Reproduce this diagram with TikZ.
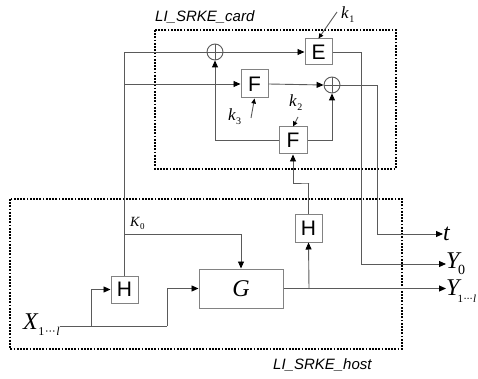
\documentclass[tikz,border=0pt]{standalone}
\usepackage{fontspec}
\setsansfont{Liberation Sans}
\newfontfamily\tms{Liberation Serif}
\usetikzlibrary{arrows.meta,calc}
\definecolor{lc}{RGB}{90,90,90}
\definecolor{bc}{RGB}{130,130,130}
\begin{document}
\begin{tikzpicture}[x=1pt,y=-1pt,
  wire/.style={draw=lc,line width=0.9pt},
  arr/.style={wire,-{Triangle[length=7pt,width=6pt,black]}},
  sarr/.style={wire,-{Triangle[length=5pt,width=4.5pt,black]}},
  blk/.style={draw=bc,line width=1pt,fill=white,inner sep=0pt,font=\sffamily\fontsize{21}{21}\selectfont},
  xorn/.style={circle,draw=lc,line width=0.9pt,fill=white,minimum size=16pt,inner sep=0pt,
    path picture={\draw[lc,line width=0.9pt] (path picture bounding box.north) -- (path picture bounding box.south)
      (path picture bounding box.west) -- (path picture bounding box.east);}},
  dbox/.style={draw=black,line width=1.8pt,dash pattern=on 1.8pt off 1.4pt},
  lbl/.style={inner sep=0pt,font=\tms\itshape},
  grp/.style={inner sep=0pt,font=\sffamily\itshape\fontsize{15}{15}\selectfont}]
\useasboundingbox (0,0) rectangle (478,379);

% group boxes
\draw[dbox] (155,30) rectangle (396,169);
\draw[dbox] (10,199) rectangle (402,349);
\node[grp,anchor=west] (cardlbl) at (155,17) {LI\_SRKE\_card};
\node[grp,anchor=west] (hostlbl) at (273,365) {LI\_SRKE\_host};

% blocks
\node[blk,minimum width=27pt,minimum height=26pt] (E) at (318.5,52) {E};
\node[blk,minimum width=27pt,minimum height=28pt] (F1) at (254.5,84) {F};
\node[blk,minimum width=28pt,minimum height=27pt] (F2) at (293,140.5) {F};
\node[blk,minimum width=27pt,minimum height=27pt] (H1) at (124.5,289.5) {H};
\node[blk,minimum width=27pt,minimum height=28pt] (H2) at (308.5,228) {H};
\node[blk,minimum width=84pt,minimum height=39pt,font=\tms\itshape\fontsize{24}{24}\selectfont] (G) at (241,288.5) {G};
\node[xorn] (x1) at (215,52) {};
\node[xorn] (x2) at (332,85) {};

% labels
\node[lbl,anchor=west,font=\tms\itshape\fontsize{24}{24}\selectfont] (X) at (23,325)
  {X\kern0.5pt\raisebox{-6pt}{\fontsize{12}{12}\selectfont\upshape 1\kern0.5pt·\kern-0.5pt·\kern-0.5pt·\kern0.5pt\itshape l}};
\node[lbl,anchor=west,font=\tms\itshape\fontsize{24}{24}\selectfont] (t) at (443,234) {t};
\node[lbl,anchor=west,font=\tms\itshape\fontsize{24}{24}\selectfont] (Y0) at (446,264)
  {Y\kern-1.5pt\raisebox{-6pt}{\fontsize{14}{14}\selectfont\upshape 0}};
\node[lbl,anchor=west,font=\tms\itshape\fontsize{24}{24}\selectfont] (Y1) at (446,291)
  {Y\kern-2pt\raisebox{-7pt}{\fontsize{11}{11}\selectfont\upshape 1\kern0.3pt·\kern-0.7pt·\kern-0.7pt·\kern0.3pt\itshape l}};
\node[lbl,anchor=west,font=\tms\itshape\fontsize{14}{14}\selectfont] (K0) at (130,223)
  {K\kern0.5pt\raisebox{-3pt}{\fontsize{9}{9}\selectfont\upshape 0}};
\node[lbl,anchor=west,font=\tms\itshape\fontsize{17}{17}\selectfont] (k1) at (341,15)
  {k\kern0.5pt\raisebox{-4pt}{\fontsize{10}{10}\selectfont\upshape 1}};
\node[lbl,anchor=west,font=\tms\itshape\fontsize{17}{17}\selectfont] (k2) at (289,103)
  {k\kern0.5pt\raisebox{-4pt}{\fontsize{10}{10}\selectfont\upshape 2}};
\node[lbl,anchor=west,font=\tms\itshape\fontsize{17}{17}\selectfont] (k3) at (228,117)
  {k\kern0.5pt\raisebox{-4pt}{\fontsize{10}{10}\selectfont\upshape 3}};

% helper coordinates
\coordinate (k1s) at (337,12);
\coordinate (k2s) at (298,117);
\coordinate (k3s) at (251,118);
\coordinate (Yjn) at (361,52);
\coordinate (tjn) at (377,85);
\coordinate (xa) at (91,326);
\coordinate (xb) at (167,326);
\coordinate (gj) at (309,289);
\coordinate (hj) at (309,183);
\coordinate (kj) at (124.5,234);

% card wiring
\draw[wire] (H1.north) |- (x1.west);
\draw[arr] (x1.east) -- (E.west);
\draw[arr] (H1.north) |- (F1.west);
\draw[arr] (F1.east) -- (x2.west);
\draw[arr] (F2.west) -| (x1.south);
\draw[arr] (F2.east) -| (x2.south);
\draw[sarr] (k1s) -- (E.north);
\draw[sarr] (k2s) -- (F2.north);
\draw[sarr] (k3s) -- (F1.south);

% outputs
\draw[arr] (E.east) -| (Yjn) |- (Y0.west);
\draw[arr] (x2.east) -| (tjn) |- (t.west);
\draw[arr] (G.east) -- (Y1.west |- G.east);

% host wiring
\draw[arr] (kj) -| (G.north);
\draw[wire] (X.east |- xa) -- (xb);
\draw[arr] (xa) |- (H1.west);
\draw[arr] (xb) |- (G.west);
\draw[arr] (gj) -- (H2.south);
\draw[arr] (H2.north) |- (hj) -| (F2.south);
\end{tikzpicture}
\end{document}
